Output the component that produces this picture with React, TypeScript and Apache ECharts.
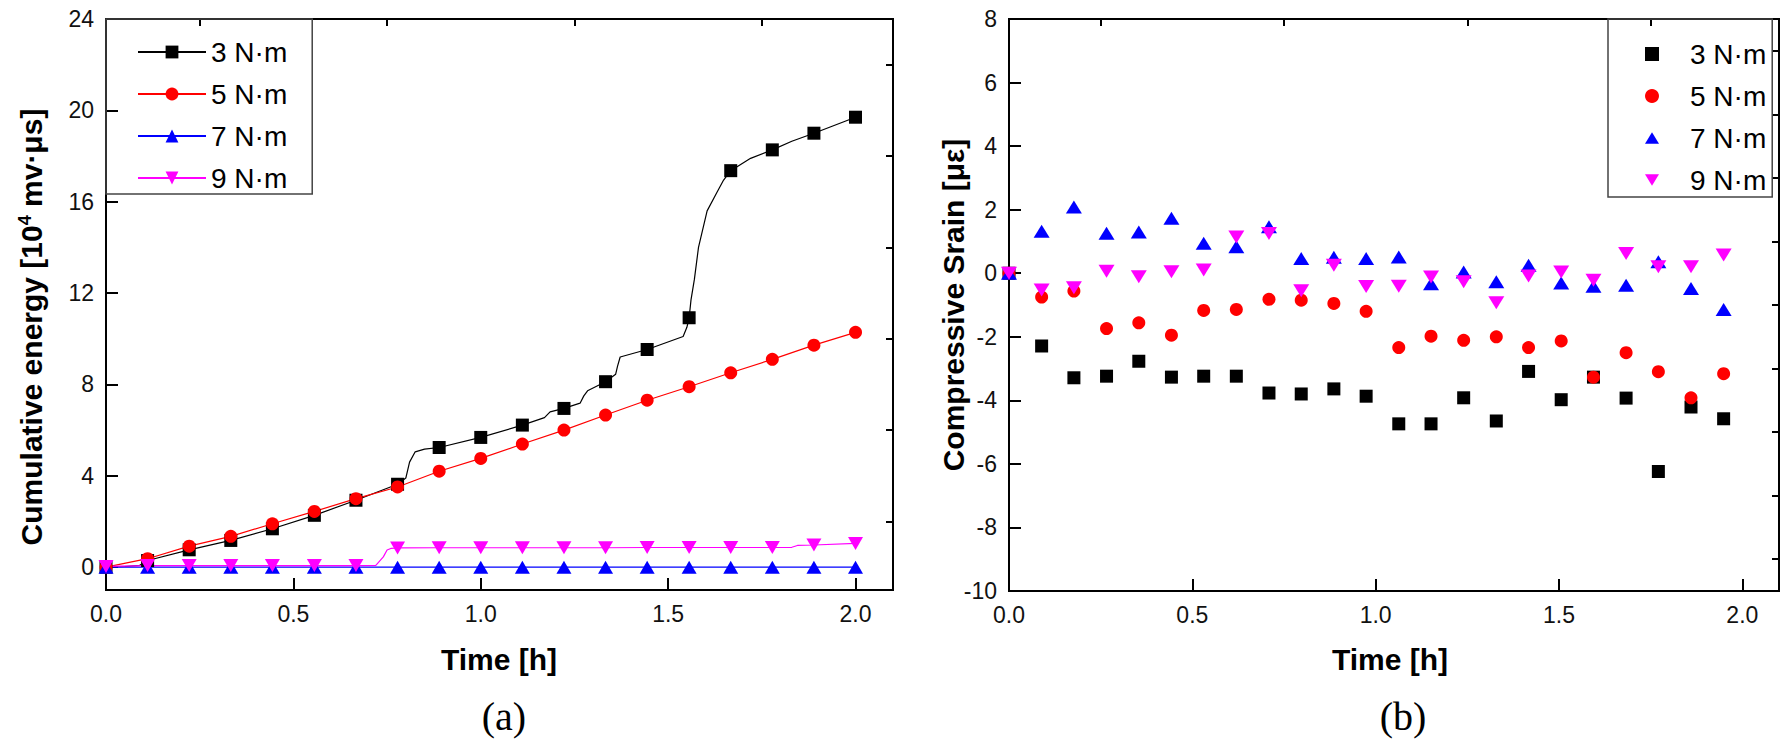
import { useEffect, useRef } from "react";
import * as echarts from "echarts";

const FONT = '"Liberation Sans", Arial, sans-serif';

// (a) cumulative energy, markers every 1/9 h
const energyTimes = [0, 0.111, 0.222, 0.333, 0.444, 0.556, 0.667, 0.778, 0.889, 1.0, 1.111, 1.222, 1.333, 1.444, 1.556, 1.667, 1.778, 1.889, 2.0];
const energy3 = [0, 0.29, 0.76, 1.17, 1.68, 2.27, 2.93, 3.63, 5.24, 5.68, 6.22, 6.95, 8.12, 9.53, 10.92, 17.36, 18.27, 19.0, 19.7];
const energy5 = [0, 0.37, 0.92, 1.35, 1.9, 2.44, 3.0, 3.51, 4.2, 4.76, 5.39, 6.0, 6.66, 7.31, 7.9, 8.51, 9.1, 9.72, 10.28];
const energy7 = [0, 0, 0, 0, 0, 0, 0, 0, 0, 0, 0, 0, 0, 0, 0, 0, 0, 0, 0];
const energy9 = [0.03, 0.07, 0.07, 0.07, 0.07, 0.07, 0.07, 0.84, 0.85, 0.85, 0.85, 0.85, 0.85, 0.86, 0.86, 0.86, 0.86, 0.97, 1.04];
// extra points of the continuous records between markers
const energy3Line = [
  [0.05, 0.03], [0.09, 0.08], [0.8, 3.9], [0.81, 4.6], [0.825, 5.05], [0.85, 5.17],
  [1.17, 6.55], [1.185, 6.8], [1.265, 7.18], [1.275, 7.5], [1.285, 7.72],
  [1.36, 8.45], [1.365, 8.8], [1.372, 9.2], [1.54, 10.1], [1.55, 10.5],
  [1.561, 11.7], [1.57, 12.6], [1.581, 14.0], [1.604, 15.6], [1.63, 16.4], [1.648, 16.95],
  [1.72, 17.9], [1.83, 18.65],
];
const energy9Line = [[0.72, 0.08], [0.74, 0.45], [0.75, 0.75], [0.76, 0.82], [1.83, 0.87], [1.845, 0.95]];

// (b) compressive strain
const strainTimes = [0, 0.089, 0.177, 0.266, 0.354, 0.443, 0.531, 0.62, 0.709, 0.797, 0.886, 0.974, 1.063, 1.151, 1.24, 1.329, 1.417, 1.506, 1.594, 1.683, 1.771, 1.86, 1.949];
const strain3 = [0, -2.29, -3.29, -3.24, -2.77, -3.27, -3.24, -3.24, -3.77, -3.8, -3.64, -3.87, -4.74, -4.74, -3.92, -4.65, -3.09, -3.98, -3.27, -3.93, -6.24, -4.21, -4.58];
const strain5 = [0, -0.75, -0.56, -1.74, -1.56, -1.95, -1.17, -1.14, -0.82, -0.85, -0.95, -1.2, -2.34, -1.98, -2.11, -2.0, -2.34, -2.13, -3.27, -2.5, -3.1, -3.92, -3.16];
const strain7 = [0, 1.32, 2.08, 1.26, 1.3, 1.73, 0.94, 0.83, 1.46, 0.46, 0.5, 0.46, 0.51, -0.33, 0.04, -0.27, 0.25, -0.31, -0.41, -0.38, 0.36, -0.48, -1.14];
const strain9 = [0, -0.53, -0.46, 0.06, -0.11, 0.05, 0.1, 1.14, 1.25, -0.55, 0.25, -0.42, -0.41, -0.12, -0.27, -0.93, -0.09, 0.04, -0.22, 0.62, 0.2, 0.2, 0.57];

const names = ["3 N·m", "5 N·m", "7 N·m", "9 N·m"];
const colors = ["#000000", "#ff0000", "#0000ff", "#ff00ff"];
const symbols = ["rect", "circle", "triangle", "triangle"];
const legendIcons = ["rect", "circle", "path://M8,0L16,13L0,13Z", "path://M0,0L16,0L8,13Z"];

const timeTicks = [0, 0.5, 1.0, 1.5, 2.0];
const timeMinor = [0.25, 0.75, 1.25, 1.75];
const energyTicks = [0, 4, 8, 12, 16, 20, 24];
const energyMinor = [2, 6, 10, 14, 18, 22];
const strainTicks = [-10, -8, -6, -4, -2, 0, 2, 4, 6, 8];
const strainMinor = [-9, -7, -5, -3, -1, 1, 3, 5, 7];

const buildLine = (values: number[], extras: number[][]) =>
  values
    .map((v, i) => ({ value: [energyTimes[i], v] as number[] }))
    .concat(extras.map((p) => ({ value: p, symbol: "none" } as any)))
    .sort((a, b) => a.value[0] - b.value[0]);

const label = { fontFamily: FONT, fontSize: 23, color: "#111" };

const majorX = (grid: number) => ({
  type: "value" as const, gridIndex: grid, min: 0, max: 2.1,
  axisLine: { show: true, onZero: false, lineStyle: { color: "#000", width: 2 } },
  axisTick: { inside: true, length: 12, lineStyle: { color: "#000", width: 2 }, customValues: timeTicks },
  axisLabel: { ...label, margin: 12, customValues: timeTicks, formatter: (v: number) => v.toFixed(1) },
  splitLine: { show: false },
});
const minorAxis = (grid: number, min: number, max: number, ticks: number[]) => ({
  type: "value" as const, gridIndex: grid, min, max,
  axisLine: { show: false, onZero: false },
  axisTick: { inside: true, length: 7, lineStyle: { color: "#000", width: 2 }, customValues: ticks },
  axisLabel: { show: false },
  splitLine: { show: false },
});
const majorY = (grid: number, min: number, max: number, ticks: number[]) => ({
  type: "value" as const, gridIndex: grid, min, max,
  axisLine: { show: true, onZero: false, lineStyle: { color: "#000", width: 2 } },
  axisTick: { inside: true, length: 12, lineStyle: { color: "#000", width: 2 }, customValues: ticks },
  axisLabel: { ...label, margin: 12, customValues: ticks, formatter: (v: number) => String(v) },
  splitLine: { show: false },
});

export default function App() {
  const ref = useRef<HTMLDivElement | null>(null);

  useEffect(() => {
    if (!ref.current) return;
    const chart = echarts.init(ref.current, undefined, { renderer: "svg" });

    const energyValues = [energy3, energy5, energy7, energy9];
    const energyExtras = [energy3Line, [], [], energy9Line];
    const strainValues = [strain3, strain5, strain7, strain9];

    const left = names.map((name, i) => ({
      type: "line" as const, name, xAxisIndex: 0, yAxisIndex: 0,
      data: buildLine(energyValues[i], energyExtras[i]),
      symbol: symbols[i],
      symbolSize: i >= 2 ? [15, 13] : 13,
      symbolRotate: i === 3 ? 180 : 0,
      lineStyle: { color: colors[i], width: 1.2 },
      itemStyle: { color: colors[i] },
      emphasis: { disabled: true },
    }));
    const right = names.map((name, i) => ({
      type: "scatter" as const, name, xAxisIndex: 2, yAxisIndex: 2,
      data: strainValues[i].map((v, k) => [strainTimes[k], v]),
      symbol: symbols[i],
      symbolSize: i >= 2 ? [16, 13] : 13,
      symbolRotate: i === 3 ? 180 : 0,
      itemStyle: { color: colors[i], opacity: 1 },
      emphasis: { disabled: true },
    }));

    const legendText = { fontFamily: FONT, fontSize: 28, color: "#000", lineHeight: 30 };
    const titleFont = `bold 30px ${FONT}`;
    const capFont = '40px "Liberation Serif", "Times New Roman", serif';

    chart.setOption({
      animation: false,
      backgroundColor: "#fff",
      grid: [
        { left: 106, top: 19, width: 787, height: 571, show: true, borderColor: "#000", borderWidth: 2 },
        { left: 1009, top: 19, width: 770, height: 572, show: true, borderColor: "#000", borderWidth: 2 },
      ],
      xAxis: [majorX(0), minorAxis(0, 0, 2.1, timeMinor), majorX(1), minorAxis(1, 0, 2.1, timeMinor)],
      yAxis: [
        majorY(0, -1, 24, energyTicks),
        minorAxis(0, -1, 24, energyMinor),
        majorY(1, -10, 8, strainTicks),
        minorAxis(1, -10, 8, strainMinor),
      ],
      legend: [
        {
          left: 106, top: 19, orient: "vertical", data: names,
          padding: [18, 25, 1, 31], itemGap: 12, itemWidth: 68, itemHeight: 16,
          borderColor: "#444", borderWidth: 1.5, textStyle: legendText,
          selectedMode: false,
        },
        {
          left: 1608, top: 19, orient: "vertical",
          data: names.map((name, i) => ({ name, icon: legendIcons[i] })),
          padding: [20, 6, 2, 37], itemGap: 12, itemWidth: 14, itemHeight: 14,
          borderColor: "#444", borderWidth: 1.5,
          textStyle: { ...legendText, padding: [0, 0, 0, 26] },
          selectedMode: false,
        },
      ],
      graphic: [
        { type: "text", x: 31, y: 327, rotation: Math.PI / 2, style: { text: "Cumulative energy [10{sup|4} mv·μs]", font: titleFont, fill: "#000", align: "center", verticalAlign: "middle", rich: { sup: { fontFamily: FONT, fontWeight: "bold", fontSize: 18, verticalAlign: "top" } } } },
        { type: "text", x: 953, y: 305, rotation: Math.PI / 2, style: { text: "Compressive Srain [με]", font: titleFont, fill: "#000", align: "center", verticalAlign: "middle" } },
        { type: "text", x: 499, y: 659, style: { text: "Time [h]", font: titleFont, fill: "#000", align: "center", verticalAlign: "middle" } },
        { type: "text", x: 1390, y: 659, style: { text: "Time [h]", font: titleFont, fill: "#000", align: "center", verticalAlign: "middle" } },
        { type: "text", x: 504, y: 716, style: { text: "(a)", font: capFont, fill: "#000", align: "center", verticalAlign: "middle" } },
        { type: "text", x: 1403, y: 716, style: { text: "(b)", font: capFont, fill: "#000", align: "center", verticalAlign: "middle" } },
      ],
      series: [...left, ...right],
    });

    return () => chart.dispose();
  }, []);

  return (
    <div
      ref={ref}
      style={{ position: "absolute", left: 0, top: 0, width: 1790, height: 746, background: "#fff" }}
    />
  );
}
